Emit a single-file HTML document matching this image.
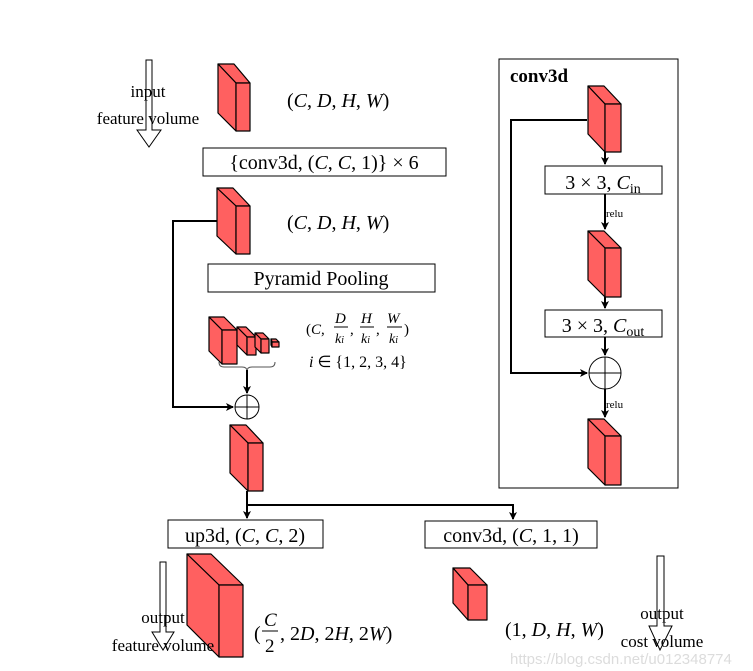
<!DOCTYPE html>
<html><head><meta charset="utf-8"><style>
body{margin:0;background:#fff;}
svg{display:block;}
text{font-family:"Liberation Serif",serif;fill:#000;}
.i{font-style:italic;}
</style></head><body>
<svg width="753" height="671" viewBox="0 0 753 671" xmlns="http://www.w3.org/2000/svg">
<defs>
<marker id="a" markerWidth="8" markerHeight="8" refX="7" refY="4" orient="auto" markerUnits="userSpaceOnUse"><path d="M0,0 L8,4 L0,8 L2,4 z" fill="#000"/></marker>
</defs>
<g stroke="#000" stroke-width="1.2" fill="#ff6060" stroke-linejoin="round">
<path d="M218,64 L234,64 L250,83 L236,83 Z"/><path d="M218,64 L236,83 L236,131 L218,113 Z"/><rect x="236" y="83" width="14" height="48"/>
<path d="M217,188 L233,188 L250,206 L236,206 Z"/><path d="M217,188 L236,206 L236,254 L217,236 Z"/><rect x="236" y="206" width="14" height="48"/>
<path d="M209,317 L224,317 L237,330 L222,330 Z"/><path d="M209,317 L222,330 L222,364 L209,351 Z"/><rect x="222" y="330" width="15" height="34"/>
<path d="M237,327 L246,327 L256,337 L247,337 Z"/><path d="M237,327 L247,337 L247,355 L237,345 Z"/><rect x="247" y="337" width="9" height="18"/>
<path d="M255,333 L263,333 L269,339 L261,339 Z"/><path d="M255,333 L261,339 L261,353 L255,347 Z"/><rect x="261" y="339" width="8" height="14"/>
<path d="M271,339 L276,339 L279,342 L272,342 Z"/><path d="M271,339 L272,342 L272,347 L271,345 Z"/><rect x="272" y="342" width="7" height="5"/>
<path d="M230,425 L246,425 L263,443 L248,443 Z"/><path d="M230,425 L248,443 L248,491 L230,473 Z"/><rect x="248" y="443" width="15" height="48"/>
<path d="M187,554 L211,554 L243,585 L219,585 Z"/><path d="M187,554 L219,585 L219,657 L187,625 Z"/><rect x="219" y="585" width="24" height="72"/>
<path d="M453,568 L470,568 L487,585 L468,585 Z"/><path d="M453,568 L468,585 L468,620 L453,603 Z"/><rect x="468" y="585" width="19" height="35"/>
<path d="M588,86 L604,86 L621,104 L605,104 Z"/><path d="M588,86 L605,104 L605,152 L588,134 Z"/><rect x="605" y="104" width="16" height="48"/>
<path d="M588,231 L604,231 L621,248 L605,248 Z"/><path d="M588,231 L605,248 L605,297 L588,280 Z"/><rect x="605" y="248" width="16" height="49"/>
<path d="M588,419 L604,419 L621,436 L605,436 Z"/><path d="M588,419 L605,436 L605,485 L588,468 Z"/><rect x="605" y="436" width="16" height="49"/>
</g>
<g fill="none" stroke="#000" stroke-width="1">
<rect x="203" y="148" width="243" height="28"/>
<rect x="208" y="264" width="227" height="28"/>
<rect x="168" y="520" width="155" height="28"/>
<rect x="425" y="521" width="172" height="27"/>
<rect x="499" y="59" width="179" height="429"/>
<rect x="545" y="166" width="117" height="28"/>
<rect x="545" y="310" width="117" height="27"/>
<circle cx="247" cy="407" r="12"/><line x1="235" y1="407" x2="259" y2="407"/><line x1="247" y1="395" x2="247" y2="419"/>
<circle cx="605" cy="373" r="16"/><line x1="589" y1="373" x2="621" y2="373"/><line x1="605" y1="357" x2="605" y2="389"/>
<path d="M219,362 q0,5 5,5 h18 q5,0 5,4 q0,-4 5,-4 h18 q5,0 5,-5" stroke="#555"/>
<path d="M146,60 H152 V130 H161 L149,147 L137,130 H146 Z"/>
<path d="M160,562 H166 V632 H174 L163,650 L152,632 H160 Z"/>
<path d="M657,556 H664 V626 H672 L660,650 L649,626 H657 Z"/>
</g>
<g fill="none" stroke="#000" stroke-width="2">
<path d="M217,221 H173 V407 H233" marker-end="url(#a)"/>
<path d="M247,370 V393" marker-end="url(#a)"/>
<path d="M247,491 V518" marker-end="url(#a)"/>
<path d="M247,505 H513 V519" marker-end="url(#a)"/>
<path d="M587,120 H511 V373 H587" marker-end="url(#a)"/>
<path d="M605,152 V164" marker-end="url(#a)"/>
<path d="M605,194 V229" marker-end="url(#a)"/>
<path d="M605,297 V308" marker-end="url(#a)"/>
<path d="M605,337 V355" marker-end="url(#a)"/>
<path d="M605,389 V417" marker-end="url(#a)"/>
</g>
<text x="148" y="97" font-size="17" text-anchor="middle">input</text>
<text x="148" y="124" font-size="17" text-anchor="middle">feature volume</text>
<text x="287" y="107" font-size="20">(<tspan class="i">C</tspan>, <tspan class="i">D</tspan>, <tspan class="i">H</tspan>, <tspan class="i">W</tspan>)</text>
<text x="287" y="229" font-size="20">(<tspan class="i">C</tspan>, <tspan class="i">D</tspan>, <tspan class="i">H</tspan>, <tspan class="i">W</tspan>)</text>
<text x="324" y="169" font-size="20" text-anchor="middle">{conv3d, (<tspan class="i">C</tspan>, <tspan class="i">C</tspan>, 1)} × 6</text>
<text x="321" y="285" font-size="20" text-anchor="middle">Pyramid Pooling</text>
<text x="306" y="334" font-size="15">(<tspan class="i">C</tspan>,</text>
<text x="335" y="323" font-size="15" class="i">D</text><line x1="334" y1="327" x2="348" y2="327" stroke="#000"/><text x="335" y="343" font-size="14" class="i">k<tspan font-size="10">i</tspan></text>
<text x="350" y="334" font-size="15">,</text>
<text x="361" y="323" font-size="15" class="i">H</text><line x1="360" y1="327" x2="374" y2="327" stroke="#000"/><text x="361" y="343" font-size="14" class="i">k<tspan font-size="10">i</tspan></text>
<text x="376" y="334" font-size="15">,</text>
<text x="387" y="323" font-size="15" class="i">W</text><line x1="387" y1="327" x2="402" y2="327" stroke="#000"/><text x="389" y="343" font-size="14" class="i">k<tspan font-size="10">i</tspan></text>
<text x="404" y="334" font-size="15">)</text>
<text x="309" y="367" font-size="16"><tspan class="i">i</tspan> ∈ {1, 2, 3, 4}</text>
<text x="245" y="542" font-size="20" text-anchor="middle">up3d, (<tspan class="i">C</tspan>, <tspan class="i">C</tspan>, 2)</text>
<text x="511" y="542" font-size="20" text-anchor="middle">conv3d, (<tspan class="i">C</tspan>, 1, 1)</text>
<text x="163" y="623" font-size="17" text-anchor="middle">output</text>
<text x="163" y="651" font-size="17" text-anchor="middle">feature volume</text>
<text x="662" y="619" font-size="17" text-anchor="middle">output</text>
<text x="662" y="647" font-size="17" text-anchor="middle">cost volume</text>
<text x="254" y="640" font-size="20">(</text>
<text x="264" y="626" font-size="19" class="i">C</text><line x1="262" y1="631" x2="278" y2="631" stroke="#000"/><text x="265" y="652" font-size="19">2</text>
<text x="280" y="640" font-size="20">, 2<tspan class="i">D</tspan>, 2<tspan class="i">H</tspan>, 2<tspan class="i">W</tspan>)</text>
<text x="505" y="636" font-size="20">(1, <tspan class="i">D</tspan>, <tspan class="i">H</tspan>, <tspan class="i">W</tspan>)</text>
<text x="510" y="82" font-size="19" font-weight="bold">conv3d</text>
<text x="603" y="189" font-size="20" text-anchor="middle">3 × 3, <tspan class="i">C</tspan><tspan font-size="14" dy="4">in</tspan></text>
<text x="603" y="332" font-size="20" text-anchor="middle">3 × 3, <tspan class="i">C</tspan><tspan font-size="14" dy="4">out</tspan></text>
<text x="606" y="217" font-size="11">relu</text>
<text x="606" y="408" font-size="11">relu</text>
<text x="510" y="664" font-size="15" style="fill:#dcdcdc;font-family:'Liberation Sans',sans-serif">https://blog.csdn.net/u012348774</text>
</svg>
</body></html>
